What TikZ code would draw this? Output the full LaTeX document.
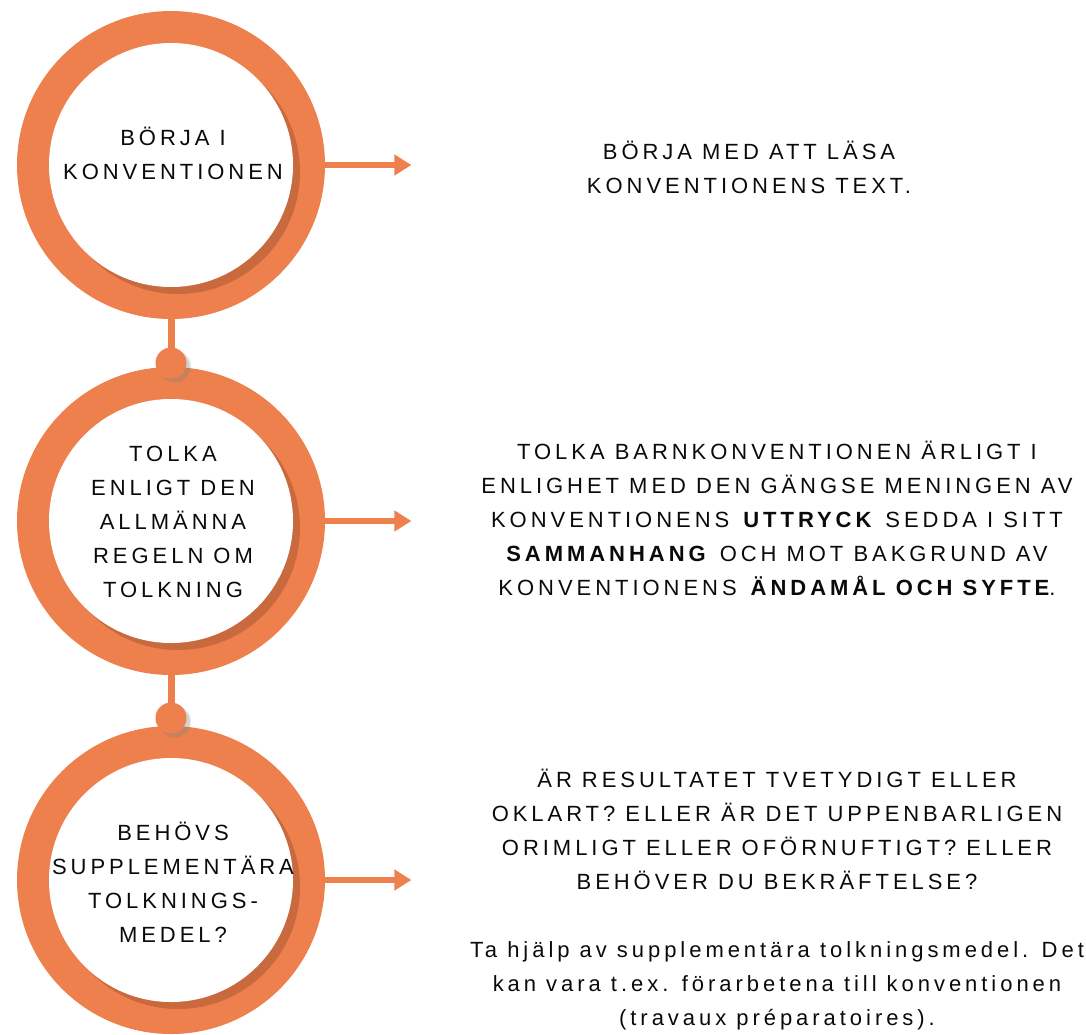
\documentclass[tikz,border=0pt]{standalone}
\usepackage{fontspec}
\setmainfont{Liberation Sans}[LetterSpace=18]
\usetikzlibrary{arrows.meta,shadows}

\definecolor{ringorange}{RGB}{238,128,77}
\definecolor{ringshade}{RGB}{201,106,62}
\definecolor{inktext}{RGB}{10,10,10}
\newcommand{\stepfont}{\fontsize{11pt}{17pt}\selectfont}

\begin{document}
\begin{tikzpicture}[x=0.5pt,y=-0.5pt,
    ring/.style={circle,fill=ringorange,minimum size=154pt,inner sep=0pt},
    face/.style={circle,fill=white,minimum size=122pt,inner sep=0pt,
        drop shadow={shadow xshift=3.5pt,shadow yshift=-3.5pt,fill=ringshade,opacity=1}},
    stepname/.style={align=center,text=inktext,font=\stepfont,inner sep=0pt},
    note/.style={align=center,text=inktext,font=\stepfont,inner sep=0pt},
    link/.style={draw=ringorange,line width=3.5pt},
    knob/.style={circle,fill=ringorange,minimum size=15.5pt,inner sep=0pt,
        circular drop shadow={shadow xshift=1.5pt,shadow yshift=-1.5pt,opacity=0.35}},
    pointer/.style={draw=ringorange,line width=3pt,
        -{Triangle[length=8.5pt,width=10pt]}}]
    \useasboundingbox (0,0) rectangle (1086,1034);
    %% Rings
    \node[ring] (ring1) at (171,165) {};
    \node[ring] (ring2) at (171,521) {};
    \node[ring] (ring3) at (171,880) {};
    %% Faces
    \node[face] (face1) at (ring1) {};
    \node[face] (face2) at (ring2) {};
    \node[face] (face3) at (ring3) {};
    %% Links between the rings
    \coordinate (hook1) at (171,363);
    \coordinate (hook2) at (171,718);
    \draw[link] (ring1.south) -- (hook1);
    \draw[link] (ring2.south) -- (hook2);
    \node[knob] (knob1) at (hook1) {};
    \node[knob] (knob2) at (hook2) {};
    %% Step names
    \node[stepname] (name1) at (173,153) {BÖRJA I\\KONVENTIONEN};
    \node[stepname] (name2) at (173,522) {TOLKA\\ENLIGT DEN\\ALLMÄNNA\\REGELN OM\\TOLKNING};
    \node[stepname] (name3) at (173,882) {BEHÖVS\\SUPPLEMENTÄRA\\TOLKNINGS-\\MEDEL?};
    %% Arrows
    \coordinate (tip1) at ([xshift=43pt]ring1.east);
    \coordinate (tip2) at ([xshift=43pt]ring2.east);
    \coordinate (tip3) at ([xshift=43pt]ring3.east);
    \draw[pointer] (ring1.east) -- (tip1);
    \draw[pointer] (ring2.east) -- (tip2);
    \draw[pointer] (ring3.east) -- (tip3);
    %% Notes
    \node[note] (note1) at (749,167) {BÖRJA MED ATT LÄSA\\KONVENTIONENS TEXT.};
    \node[note] (note2) at (777,518) {TOLKA BARNKONVENTIONEN ÄRLIGT I\\
        ENLIGHET MED DEN GÄNGSE MENINGEN AV\\
        KONVENTIONENS \textbf{UTTRYCK} SEDDA I SITT\\
        \textbf{SAMMANHANG} OCH MOT BAKGRUND AV\\
        KONVENTIONENS \textbf{ÄNDAMÅL OCH SYFTE}.};
    \node[note] (note3) at (777,900) {ÄR RESULTATET TVETYDIGT ELLER\\
        OKLART? ELLER ÄR DET UPPENBARLIGEN\\
        ORIMLIGT ELLER OFÖRNUFTIGT? ELLER\\
        BEHÖVER DU BEKRÄFTELSE?\\[17pt]
        Ta hjälp av supplementära tolkningsmedel. Det\\
        kan vara t.ex. förarbetena till konventionen\\
        (travaux préparatoires).};
\end{tikzpicture}
\end{document}
